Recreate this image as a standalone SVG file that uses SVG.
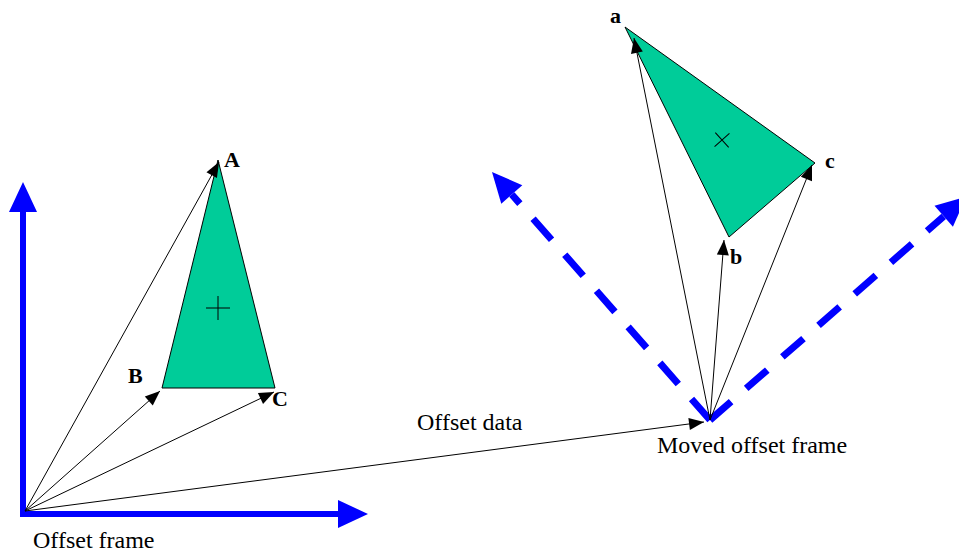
<svg xmlns="http://www.w3.org/2000/svg" width="959" height="554" viewBox="0 0 959 554">
<style>
.tri{fill:#00CC99;stroke:#000;stroke-width:1}
.vec{stroke:#000;stroke-width:1;fill:none;marker-end:url(#ah)}
.axis{stroke:#0000FF;stroke-width:6;fill:none}
.dash{stroke:#0000FF;stroke-width:7;fill:none;stroke-dasharray:28 20}
.lbl{font-family:"Liberation Serif",serif;font-weight:bold;font-size:22px;fill:#000}
.txt{font-family:"Liberation Serif",serif;font-size:24px;fill:#000}
.cross{stroke:#000;stroke-width:1}
</style>
<defs>
<marker id="ah" markerUnits="userSpaceOnUse" markerWidth="16" markerHeight="12" refX="15" refY="6" orient="auto" overflow="visible">
<path d="M0,0 L15,6 L0,12 z" fill="#000"/>
</marker>
<marker id="bh" markerUnits="userSpaceOnUse" markerWidth="30" markerHeight="28" refX="0" refY="14" orient="auto" overflow="visible">
<path d="M0,0 L30,14 L0,28 z" fill="#0000FF"/>
</marker>
</defs>
<rect width="959" height="554" fill="#fff"/>

<g id="offset-frame">
<path class="axis" d="M23,514 L23,212" marker-end="url(#bh)"/>
<path class="axis" d="M20,514 L338,514" marker-end="url(#bh)"/>
<text class="txt" x="33" y="548">Offset frame</text>
</g>

<g id="moved-offset-frame">
<path class="dash" d="M710,420 L511.8,194.5" marker-end="url(#bh)"/>
<path class="dash" d="M710,420 L943.7,216.3" marker-end="url(#bh)"/>
<text class="txt" x="657" y="453">Moved offset frame</text>
</g>

<g id="triangle-ABC">
<polygon class="tri" points="218,160 162,388 275,388"/>
<path class="cross" d="M206,308 H230 M218,296 V320"/>
<text class="lbl" x="224" y="167">A</text>
<text class="lbl" x="128" y="383">B</text>
<text class="lbl" x="272" y="406">C</text>
</g>

<g id="triangle-abc">
<polygon class="tri" points="625,27 815,163 729,237"/>
<path class="cross" d="M712,140 H732 M722,130 V150" transform="rotate(-42 722 140)"/>
<text class="lbl" x="610" y="23">a</text>
<text class="lbl" x="730" y="264">b</text>
<text class="lbl" x="825" y="168">c</text>
</g>

<g id="connectors">
<path class="vec" d="M25,511 L219,162"/>
<path class="vec" d="M25,511 L160,391"/>
<path class="vec" d="M25,511 L274,392"/>
<path class="vec" d="M25,511 L704,422"/>
<path class="vec" d="M710,420 L634,38"/>
<path class="vec" d="M710,420 L724,240"/>
<path class="vec" d="M710,420 L812,165"/>
</g>
<text class="txt" x="417" y="430">Offset data</text>
</svg>
